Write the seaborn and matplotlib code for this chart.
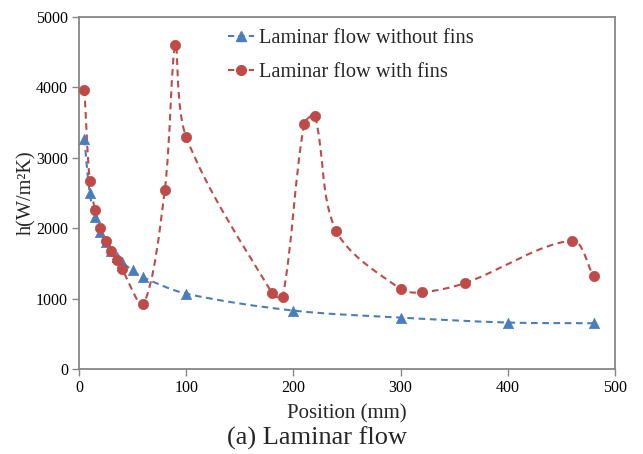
import numpy as np
import pandas as pd
import seaborn as sns
import matplotlib
matplotlib.use("Agg")
import matplotlib.pyplot as plt
from matplotlib.path import Path
from matplotlib.patches import PathPatch
from matplotlib.lines import Line2D
from matplotlib.transforms import IdentityTransform

# ---- data ----
x_nofins = [5, 10, 15, 20, 25, 30, 35, 40, 50, 60, 100, 200, 300, 400, 480]
h_nofins = [3270, 2500, 2160, 1950, 1800, 1670, 1590, 1520, 1400, 1300, 1070, 830, 730, 660, 650]

x_fins = [5, 10, 15, 20, 25, 30, 35, 40, 60, 80, 90, 100, 180, 190, 210, 220, 240,
          300, 320, 360, 460, 480]
h_fins = [3970, 2670, 2260, 2000, 1820, 1675, 1550, 1420, 920, 2540, 4600, 3295, 1080,
          1020, 3480, 3590, 1960, 1135, 1090, 1220, 1820, 1320]

series_names = ["Laminar flow without fins", "Laminar flow with fins"]
xticks = [0, 100, 200, 300, 400, 500]
yticks = [0, 1000, 2000, 3000, 4000, 5000]

blue = "#4A7EBB"
red = "#BE4B48"

sns.set_theme(style="white")
plt.rcParams["font.family"] = ["Liberation Serif", "DejaVu Serif"]

fig = plt.figure(figsize=(6.43, 4.54), dpi=100)
ax = fig.add_axes([79 / 643, 1 - 369 / 454, (615 - 79) / 643, (369 - 17) / 454])
ax.set_xlim(0, 500)
ax.set_ylim(0, 5000)


def smooth_path(xs, ys, ax_):
    # Excel-like smoothed line: cubic Bezier through each point, tangent
    # length scaled by neighbouring segment lengths (limits overshoot)
    pts = ax_.transData.transform(np.column_stack([xs, ys]))
    n = len(pts)
    verts = [pts[0]]
    codes = [Path.MOVETO]

    def tangent(i, toward_next):
        p_prev = pts[i - 1] if i > 0 else pts[i]
        p_next = pts[i + 1] if i + 1 < n else pts[i]
        d_prev = np.linalg.norm(pts[i] - p_prev)
        d_next = np.linalg.norm(p_next - pts[i])
        tot = d_prev + d_next
        if tot == 0:
            return np.zeros(2)
        frac = (d_next if toward_next else d_prev) / tot
        return (p_next - p_prev) * frac * 0.33

    for i in range(n - 1):
        c1 = pts[i] + tangent(i, True)
        c2 = pts[i + 1] - tangent(i + 1, False)
        verts += [c1, c2, pts[i + 1]]
        codes += [Path.CURVE4] * 3
    return Path(verts, codes)


df_nf = pd.DataFrame({"x": x_nofins, "h": h_nofins})
df_f = pd.DataFrame({"x": x_fins, "h": h_fins})

fig.canvas.draw()
for xs, ys, col in [(x_nofins, h_nofins, blue), (x_fins, h_fins, red)]:
    p = smooth_path(np.array(xs, float), np.array(ys, float), ax)
    patch = PathPatch(p, facecolor="none", edgecolor=col, lw=1.5,
                      linestyle=(0, (3.2, 2.2)), zorder=2)
    patch.set_transform(IdentityTransform())
    ax.add_patch(patch)

sns.scatterplot(data=df_nf, x="x", y="h", marker="^", s=55, color=blue,
                edgecolor=blue, linewidth=0.5, ax=ax, zorder=3)
sns.scatterplot(data=df_f, x="x", y="h", marker="o", s=55, color=red,
                edgecolor=red, linewidth=0.5, ax=ax, zorder=4)

ax.set_xticks(xticks)
ax.set_yticks(yticks)
ax.set_xticklabels([str(t) for t in xticks])
ax.set_yticklabels([str(t) for t in yticks])
ax.tick_params(axis="both", which="both", direction="out", length=5, width=1,
               color="#868686", labelsize=11.5, labelcolor="black", pad=3,
               bottom=True, left=True)
for s in ax.spines.values():
    s.set_color("#868686")
    s.set_linewidth(1.3)
    s.set_visible(True)

ax.set_xlabel("Position (mm)", fontsize=15, labelpad=6)
ax.set_ylabel("h(W/m²K)", fontsize=14.6, labelpad=0)

handles = [
    Line2D([0], [0], color=blue, lw=1.5, linestyle=(0, (3, 2)), marker="^",
           markersize=7, markerfacecolor=blue, markeredgecolor=blue),
    Line2D([0], [0], color=red, lw=1.5, linestyle=(0, (3, 2)), marker="o",
           markersize=7, markerfacecolor=red, markeredgecolor=red),
]
leg = fig.legend(handles, series_names, loc="upper left",
                 bbox_to_anchor=(228 / 643, 1 - 29 / 454), frameon=False,
                 fontsize=14.7, handlelength=1.25, handletextpad=0.25,
                 labelspacing=0.72, borderaxespad=0, borderpad=0)

fig.text(317 / 643, 1 - 438 / 454, "(a) Laminar flow", ha="center", va="center",
         fontsize=19)

fig.savefig("out.png", dpi=100)
